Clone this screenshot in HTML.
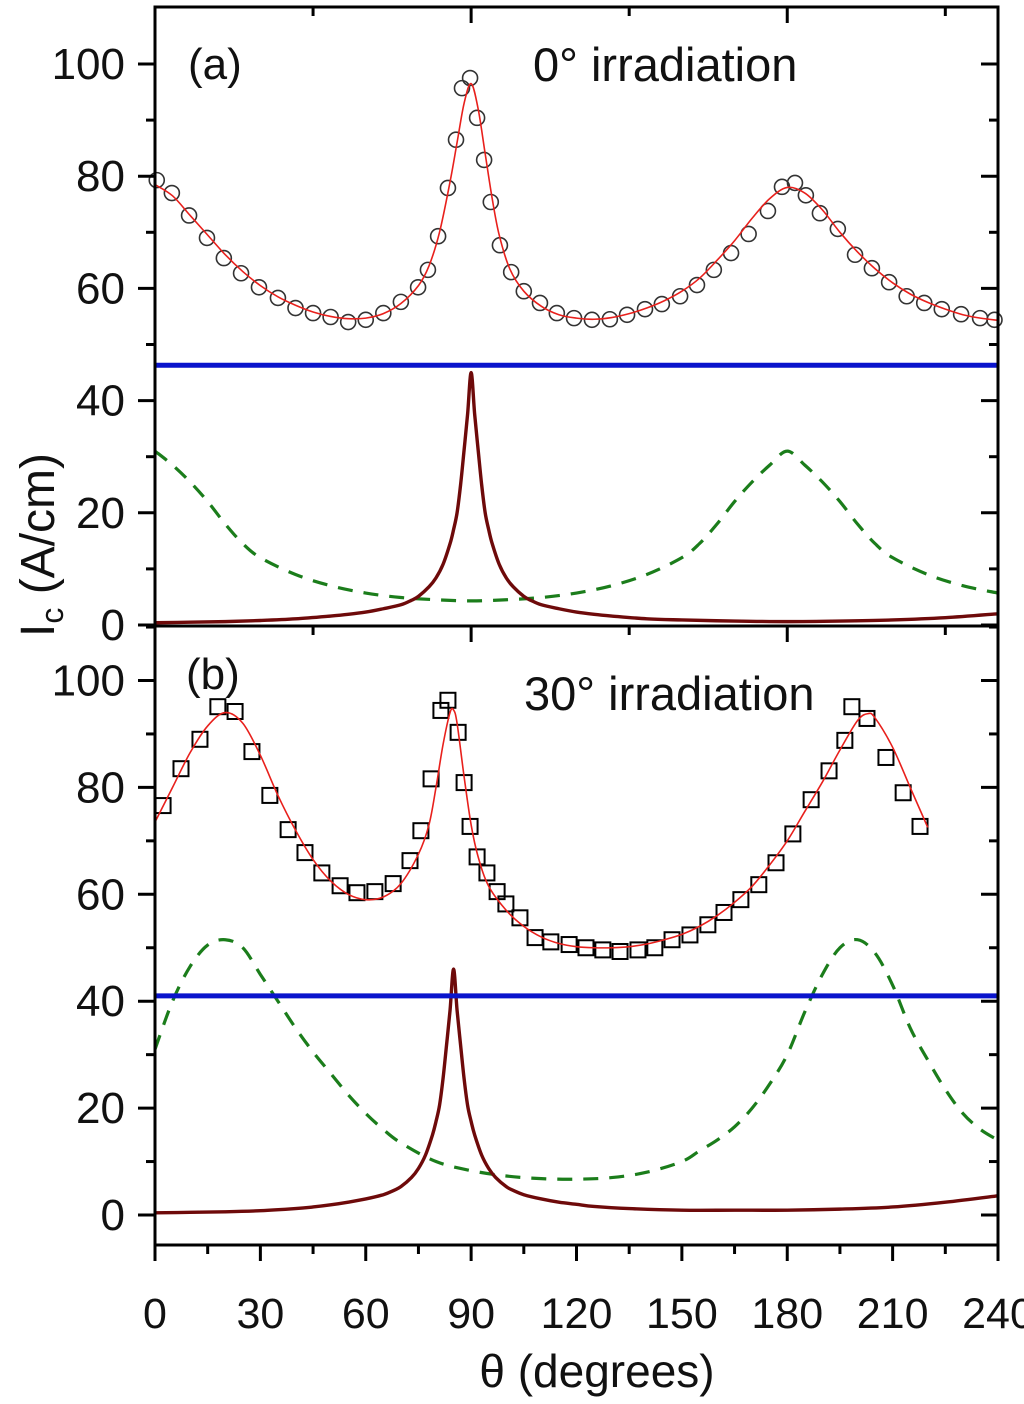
<!DOCTYPE html>
<html><head><meta charset="utf-8"><style>
html,body{margin:0;padding:0;background:#fff;}
svg{display:block;font-family:"Liberation Sans",Arial,sans-serif;}
</style></head><body>
<svg id="chart" width="1024" height="1404" viewBox="0 0 1024 1404" xmlns="http://www.w3.org/2000/svg">
<g id="panelA"></g>
<g id="panelB"></g>
<g id="axes"></g>
<text x="188" y="79" font-size="44" fill="#111">(a)</text>
<text x="533" y="81" font-size="47" fill="#111">0° irradiation</text>
<text x="186" y="689" font-size="44" fill="#111">(b)</text>
<text x="524" y="710" font-size="47" fill="#111">30° irradiation</text>
<text x="597" y="1387" font-size="46" text-anchor="middle" fill="#111">θ (degrees)</text>
<text transform="translate(54,545) rotate(-90)" font-size="48" text-anchor="middle" fill="#111">I<tspan font-size="32" dy="9">c</tspan><tspan dy="-9"> (A/cm)</tspan></text>
</svg>
<script>
// ---- data: panel (a) ----
const aDataTheta=[0.5,4.8,9.7,14.8,19.6,24.5,29.6,35,40,45,50,55,60,65,70,74.9,77.7,80.6,83.4,85.7,87.4,89.7,91.7,93.7,95.6,98.2,101.4,105,109.6,114.4,119.3,124.4,129.5,134.4,139.5,144.3,149.5,154.3,159.1,164,169,174.5,178.5,182.2,185.3,189.3,194.4,199.3,204.1,209,214,219,224,229.5,234.9,239];
const aDataIc=[79.3,77,73,69,65.4,62.7,60.2,58.3,56.5,55.6,54.9,54,54.4,55.6,57.6,60.2,63.3,69.3,77.9,86.5,95.7,97.5,90.4,82.9,75.4,67.7,62.9,59.5,57.4,55.6,54.7,54.4,54.5,55.3,56.3,57.2,58.6,60.6,63.3,66.3,69.7,73.8,78.1,78.8,76.6,73.4,70.6,66,63.6,61.1,58.6,57.4,56.3,55.4,54.7,54.4];
const aFitTheta=[0,5,10,15,20,25,30,35,40,45,50,55,60,65,70,75,78,81,84,86,88,90,92,94,96,98,101,105,110,115,120,125,130,135,140,145,150,155,160,165,170,175,180,185,190,195,200,205,210,215,220,225,230,235,240];
const aFitIc=[78.5,76.5,73,69.5,66,63,60.5,58.5,57,55.8,55,54.6,54.7,55.5,57.3,60.5,64,70,79,86,93,96.5,92,84,76,69.5,63.5,59.5,56.8,55.3,54.7,54.5,54.8,55.5,56.5,57.8,59.5,61.8,65,68.5,72.5,76,78,77,74,70,66.5,63.5,61,59,57.5,56.3,55.3,54.7,54.3];
const aBaseline=[46.3];
const aGreenTheta=[0,5,10,15,20,25,30,40,50,60,70,80,90,100,110,120,130,140,150,155,160,165,170,175,180,185,190,195,200,205,210,220,230,240];
const aGreenIc=[31,28.5,25.5,22,18,14.5,12,9,7,5.7,4.9,4.5,4.3,4.5,4.9,5.7,7,9,12,14.5,18,22,25.5,28.5,31,28.5,25.5,22,18,14.5,12,9,7,5.7];
const aPeakTheta=[0,10,20,30,40,50,55,60,65,70,73,75,78,80,82,84,85,86,87,88,89,90,91,92,93,94,95,96,98,100,102,105,107,110,115,120,125,130,140,150,165,180,195,210,225,240];
const aPeakIc=[0.4,0.5,0.6,0.8,1.1,1.6,1.9,2.3,2.9,3.6,4.4,5.1,6.8,8.4,10.8,14.5,17,20,25,31.2,37.6,45,37.6,31.2,25,20,17,14.5,10.8,8.4,6.8,5.1,4.4,3.6,2.9,2.3,1.9,1.6,1.1,0.9,0.7,0.6,0.7,0.9,1.3,2];
// ---- data: panel (b) ----
const bDataTheta=[2.3,7.4,12.8,17.9,22.8,27.6,32.7,37.9,42.7,47.5,52.7,57.5,62.6,67.8,72.6,75.7,78.6,81.4,83.4,86.3,88,89.7,91.7,94.5,97.4,99.9,103.9,108.2,112.7,117.9,122.7,127.5,132.4,137.5,142.3,147.2,152.3,157.4,162,166.8,171.9,176.8,181.6,186.8,191.9,196.4,198.4,202.7,208.1,213,217.8];
const bDataIc=[76.6,83.5,89,95.1,94.2,86.7,78.5,72.1,67.8,64,61.6,60.3,60.5,62,66.3,71.9,81.6,94.4,96.3,90.3,80.9,72.7,67,64,60.5,58.2,55.6,51.9,51.1,50.6,50,49.6,49.3,49.6,50,51.5,52.4,54.3,56.6,59,61.8,65.9,71.3,77.7,83.1,88.8,95.1,92.9,85.6,79,72.7];
const bFitTheta=[0,5,10,15,20,25,30,35,40,45,50,55,60,65,70,75,78,80,82,84,85,86,88,90,92,95,100,105,110,115,120,125,130,135,140,145,150,155,160,165,170,175,180,185,190,195,200,203,205,210,215,220];
const bFitIc=[73.5,80,86.5,91.5,94,92,86,78.5,72,66.5,62.5,60,59,59.5,62,67.5,73,80,88,94,94.5,92,82,73,67,61.5,57,54,52,50.8,50.2,50,50,50.2,50.7,51.5,52.5,54,56,58.5,61.5,65.5,70,75.5,81,87,92.5,93.8,93,87.5,80,72.5];
const bBaseline=[41];
const bGreenTheta=[0,5,10,15,20,25,30,35,40,45,50,55,60,65,70,80,90,100,110,120,130,140,150,155,160,165,170,175,180,185,190,195,200,205,210,215,220,225,230,235,240];
const bGreenIc=[31,40,46.5,50.5,51.5,50,45,40,35,30.5,26.5,22.5,19,16,13.5,10,8.3,7.3,6.8,6.7,7,8,10,12,14,16.5,20,24.5,30,38,45,50,51.5,49,43,35,29,23.5,19,16,14];
const bPeakTheta=[0,10,20,30,40,45,50,55,60,65,68,70,73,75,77,79,80,81,82,83,84,85,86,87,88,89,90,91,93,95,97,100,102,105,110,115,120,125,135,150,165,180,195,210,225,240];
const bPeakIc=[0.4,0.5,0.6,0.8,1.2,1.5,1.9,2.4,3,3.8,4.6,5.3,7,8.7,11.2,15,17.5,20.5,25.5,31.8,38.3,46,38.3,31.8,25.5,20.5,17.5,15,11.2,8.7,7,5.3,4.6,3.8,3,2.4,2,1.6,1.2,0.9,0.9,0.9,1.1,1.5,2.4,3.6];
const xTicks=[0,30,60,90,120,150,180,210,240];
const yTicks=[0,20,40,60,80,100];

const NS='http://www.w3.org/2000/svg';
const X0=155,X1=998;
const xs=t=>X0+(t/240)*(X1-X0);
const ysA=v=>625-v*5.61;
const ysB=v=>1215-v*5.345;
function mk(tag,attrs,parent){const e=document.createElementNS(NS,tag);for(const k in attrs)e.setAttribute(k,attrs[k]);parent.appendChild(e);return e;}
function spline(T,V,ys){
  const p=T.map((t,i)=>[xs(t),ys(V[i])]);
  let d='M'+p[0][0].toFixed(2)+','+p[0][1].toFixed(2);
  for(let i=0;i<p.length-1;i++){
    const p0=p[i-1]||p[i],p1=p[i],p2=p[i+1],p3=p[i+2]||p[i+1];
    const c1=[p1[0]+(p2[0]-p0[0])/6,p1[1]+(p2[1]-p0[1])/6];
    const c2=[p2[0]-(p3[0]-p1[0])/6,p2[1]-(p3[1]-p1[1])/6];
    d+=' C'+c1.map(n=>n.toFixed(2)).join(',')+' '+c2.map(n=>n.toFixed(2)).join(',')+' '+p2.map(n=>n.toFixed(2)).join(',');
  }
  return d;
}
function panel(g,ys,base,gT,gV,pT,pV,fT,fV,dT,dV,marker,pre){
  let e;
  e=mk('path',{d:spline(gT,gV,ys),fill:'none',stroke:'#1b7d1b','stroke-width':3.2,'stroke-dasharray':'15 11'},g);
  
  
  e=mk('path',{d:spline(pT,pV,ys),fill:'none',stroke:'#6e0a0a','stroke-width':3.4},g);
  
  
  e=mk('line',{x1:X0,x2:X1,y1:ys(base[0]),y2:ys(base[0]),stroke:'#0a14cc','stroke-width':5},g);
  
  
  for(let i=0;i<dT.length;i++){
    const cx=xs(dT[i]),cy=ys(dV[i]);
    if(marker==='circle'){e=mk('circle',{cx:cx,cy:cy,r:7.5,fill:'none',stroke:'#333','stroke-width':1.6},g);}
    else{e=mk('rect',{x:cx-7.5,y:cy-7.5,width:15,height:15,fill:'none',stroke:'#000','stroke-width':2},g);}
    
    
  }
  e=mk('path',{d:spline(fT,fV,ys),fill:'none',stroke:'#e8201c','stroke-width':1.6},g);
  
  
}
panel(document.getElementById('panelA'),ysA,aBaseline,aGreenTheta,aGreenIc,aPeakTheta,aPeakIc,aFitTheta,aFitIc,aDataTheta,aDataIc,'circle','panel-a');
panel(document.getElementById('panelB'),ysB,bBaseline,bGreenTheta,bGreenIc,bPeakTheta,bPeakIc,bFitTheta,bFitIc,bDataTheta,bDataIc,'square','panel-b');

const ax=document.getElementById('axes');
let e;
e=mk('rect',{x:X0,y:7,width:X1-X0,height:619,fill:'none',stroke:'#000','stroke-width':3},ax);


e=mk('rect',{x:X0,y:626,width:X1-X0,height:619,fill:'none',stroke:'#000','stroke-width':3},ax);


// y ticks
[[ysA,110],[ysB,110]].forEach(([ys,hi])=>{
  for(let v=0;v<=hi;v+=10){
    const y=ys(v); if(y<8||y>1244) continue;
    const major=v%20===0;
    e=mk('line',{x1:X0-(major?17:9),x2:X0,y1:y,y2:y,stroke:'#000','stroke-width':3},ax);
    
    
    e=mk('line',{x1:X1-(major?17:9),x2:X1,y1:y,y2:y,stroke:'#000','stroke-width':3},ax);
    
    
  }
  yTicks.forEach(v=>{
    e=mk('text',{x:125,y:ys(v)+15,'font-size':44,'text-anchor':'end',fill:'#111'},ax);
    e.textContent=v;
    
    
  });
});
// x ticks
for(let t=0;t<=240;t+=15){
  const x=xs(t),major=t%30===0;
  e=mk('line',{x1:x,x2:x,y1:1245,y2:1245+(major?16:9),stroke:'#000','stroke-width':3},ax);
  
  
}
for(let t=45;t<240;t+=45){
  const x=xs(t);
  e=mk('line',{x1:x,x2:x,y1:7,y2:7+(t%90===0?16:9),stroke:'#000','stroke-width':3},ax);
  
  
  e=mk('line',{x1:x,x2:x,y1:626,y2:626+(t%90===0?16:9),stroke:'#000','stroke-width':3},ax);
  
  
}
xTicks.forEach(t=>{
  e=mk('text',{x:xs(t),y:1328,'font-size':43,'text-anchor':'middle',fill:'#111'},ax);
  e.textContent=t;
  
  
});
</script>
</body></html>
